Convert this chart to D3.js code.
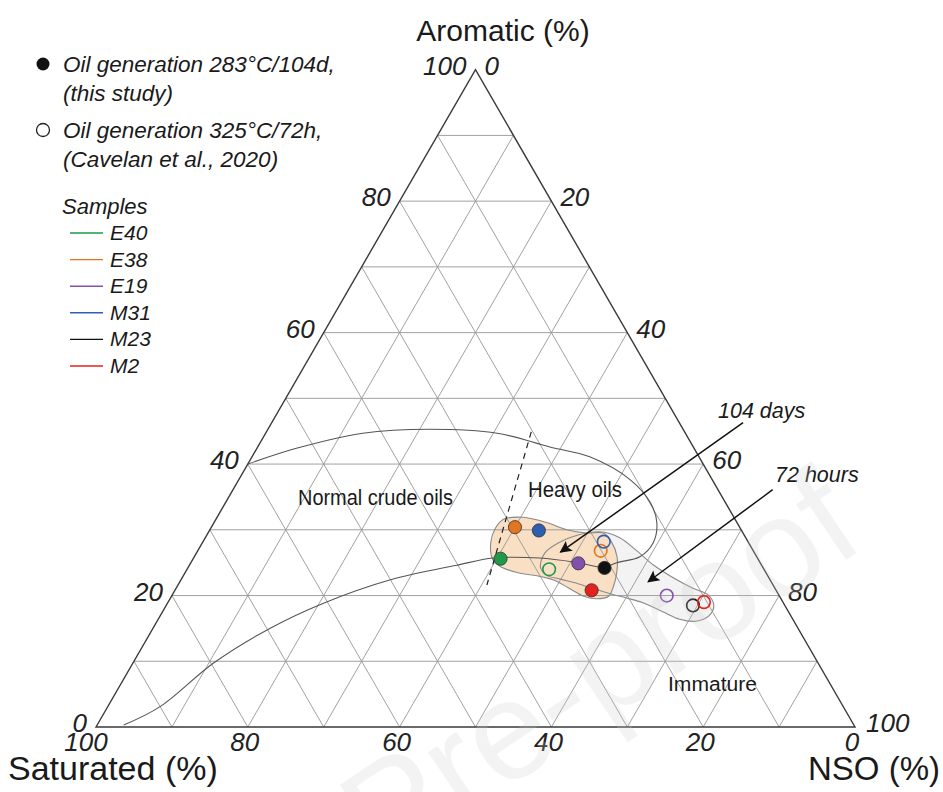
<!DOCTYPE html>
<html><head><meta charset="utf-8">
<script src="https://cdn.jsdelivr.net/npm/d3@7"></script>
<style>body{margin:0;background:#fff} svg{display:block}</style>
</head><body>
<svg id="chart" width="943" height="792"></svg>
<script>
// ---------- data (ternary: [Saturated, Aromatic, NSO] in %) ----------
const samples = ["E40", "E38", "E19", "M31", "M23", "M2"];
const sampleColors = ["#1e9a48", "#e0761f", "#8450ad", "#2f5fb3", "#111111", "#e3221f"];
const studySat = [33.9, 29.6, 24.0, 26.7, 20.9, 24.3];
const studyAro = [25.6, 30.4, 24.9, 29.9, 24.2, 20.8];
const studyNso = [40.5, 40.0, 51.1, 43.4, 54.9, 54.9];
const cavelanSat = [28.3, 20.1, 14.8, 19.0, 12.1, 10.4];
const cavelanAro = [24.0, 26.8, 20.0, 28.2, 18.5, 19.0];
const cavelanNso = [47.7, 53.1, 65.2, 52.8, 69.4, 70.6];
const tickValues = [0, 20, 40, 60, 80, 100];
const gridValues = [10, 20, 30, 40, 50, 60, 70, 80, 90];

const crudeBoundary = [
  [96.2, 0.3, 3.5], [90.0, 3.1, 6.9], [79.7, 9.7, 10.6], [69.6, 15.0, 15.4],
  [60.7, 18.8, 20.5], [50.0, 22.4, 27.6], [40.2, 24.6, 35.2], [34.8, 25.7, 39.5],
  [28.7, 25.7, 45.6], [24.0, 25.0, 51.0], [20.9, 24.3, 54.8], [18.9, 25.0, 56.1],
  [15.4, 25.9, 58.7], [12.6, 28.0, 59.4], [10.6, 31.0, 58.4], [9.9, 34.1, 56.0],
  [10.8, 37.6, 51.6], [14.4, 41.1, 44.5], [18.9, 42.6, 38.5], [24.8, 44.7, 30.5],
  [33.4, 45.3, 21.3], [42.5, 44.7, 12.8], [52.4, 42.4, 5.2], [60.0, 40.0, 0.0]
];
const heavyDivider = [[20.2, 44.9, 34.9], [37.7, 21.6, 40.7]];
const blob104 = [
  [30.5, 31.6, 37.9], [27.8, 31.9, 40.3], [25.1, 31.1, 43.8], [23.0, 30.0, 47.0],
  [20.6, 29.5, 49.9], [18.4, 29.5, 52.1], [18.0, 28.2, 53.8], [18.4, 25.9, 55.7],
  [19.7, 23.4, 56.9], [21.2, 21.3, 57.5], [22.5, 19.9, 57.6], [24.3, 19.5, 56.2],
  [25.8, 19.9, 54.3], [27.2, 21.2, 51.6], [28.6, 22.4, 49.0], [30.4, 23.0, 46.6],
  [32.8, 23.5, 43.7], [34.4, 24.3, 41.3], [35.0, 25.4, 39.6], [34.0, 28.0, 38.0],
  [32.3, 30.2, 37.5]
];
const blob72 = [
  [29.3, 24.3, 46.4], [27.6, 26.5, 45.9], [25.1, 28.0, 46.9], [21.9, 29.2, 48.9],
  [18.8, 29.7, 51.5], [16.6, 28.8, 54.6], [15.4, 26.9, 57.7], [14.2, 24.6, 61.2],
  [12.6, 22.7, 64.7], [10.8, 21.1, 68.1], [9.3, 20.1, 70.6], [9.4, 18.4, 72.2],
  [10.8, 16.9, 72.3], [12.9, 16.1, 71.0], [14.9, 16.4, 68.7], [16.5, 17.5, 66.0],
  [18.5, 18.9, 62.6], [20.2, 19.6, 60.2], [21.9, 20.2, 57.9], [23.8, 21.0, 55.2],
  [25.6, 21.8, 52.6], [27.6, 22.5, 49.9], [29.1, 23.1, 47.8]
];
const arrow104 = [[-8.4, 46.3, 62.1], [25.5, 26.6, 47.9]];
const arrow72 = [[-7.2, 36.1, 71.1], [16.2, 22.1, 61.7]];

// ---------- geometry ----------
const svg = d3.select("#chart");
const xL = 96, xR = 855, yB = 727;
const side = xR - xL, triH = side * Math.sqrt(3) / 2;
const xScale = d3.scaleLinear().domain([0, 100]).range([xL, xR]);
const yScale = d3.scaleLinear().domain([0, 100]).range([yB, yB - triH]);
const proj = p => [xScale(p[2] + p[1] / 2), yScale(p[1])];
const FONT = "'Liberation Sans', Arial, Helvetica, sans-serif";

const smooth = d3.line().x(d => proj(d)[0]).y(d => proj(d)[1]).curve(d3.curveCatmullRom.alpha(0.5));
const smoothClosed = d3.line().x(d => proj(d)[0]).y(d => proj(d)[1]).curve(d3.curveCatmullRomClosed.alpha(0.5));
const straight = d3.line().x(d => proj(d)[0]).y(d => proj(d)[1]);

// ---------- blobs (behind grid) ----------
svg.append("path").attr("d", smoothClosed(blob72)).attr("fill", "#f3f3f3").attr("stroke", "none");
svg.append("path").attr("d", smoothClosed(blob104)).attr("fill", "#f9dfc4").attr("stroke", "none");

// ---------- grid ----------
const grid = svg.append("g").attr("stroke", "#969696").attr("stroke-width", 0.9).attr("fill", "none");
gridValues.forEach(k => {
  const segs = [
    [[100 - k, k, 0], [0, k, 100 - k]],
    [[100 - k, 0, k], [0, 100 - k, k]],
    [[k, 0, 100 - k], [k, 100 - k, 0]]
  ];
  segs.forEach(s => grid.append("path").attr("d", straight(s)));
});
// triangle
svg.append("path")
  .attr("d", straight([[100, 0, 0], [0, 100, 0], [0, 0, 100]]) + "Z")
  .attr("fill", "none").attr("stroke", "#3a3a3a").attr("stroke-width", 1.4);

// ---------- blob outlines ----------
svg.append("path").attr("d", smoothClosed(blob72)).attr("fill", "none").attr("stroke", "#8a8a8a").attr("stroke-width", 1.1);
svg.append("path").attr("d", smoothClosed(blob104)).attr("fill", "none").attr("stroke", "#8a8a8a").attr("stroke-width", 1.1);

// ---------- field boundaries ----------
svg.append("path").attr("d", smooth(crudeBoundary)).attr("fill", "none").attr("stroke", "#555").attr("stroke-width", 1.1);
svg.append("path").attr("d", straight(heavyDivider)).attr("fill", "none").attr("stroke", "#222")
  .attr("stroke-width", 1.2).attr("stroke-dasharray", "6,5");

// ---------- points ----------
const study = samples.map((s, i) => ({ s, c: sampleColors[i], p: [studySat[i], studyAro[i], studyNso[i]] }));
const cav = samples.map((s, i) => ({ s, c: sampleColors[i], p: [cavelanSat[i], cavelanAro[i], cavelanNso[i]] }));
svg.append("g").selectAll("circle").data(cav).join("circle")
  .attr("cx", d => proj(d.p)[0]).attr("cy", d => proj(d.p)[1]).attr("r", 6.3)
  .attr("fill", "none").attr("stroke", d => d.c).attr("stroke-width", 1.6);
svg.append("g").selectAll("circle").data(study).join("circle")
  .attr("cx", d => proj(d.p)[0]).attr("cy", d => proj(d.p)[1]).attr("r", 6.6)
  .attr("fill", d => d.c).attr("stroke", "#333").attr("stroke-width", 0.8);

// ---------- arrows ----------
const defs = svg.append("defs");
defs.append("marker").attr("id", "ah").attr("viewBox", "0 0 10 10").attr("refX", 9).attr("refY", 5)
  .attr("markerWidth", 17).attr("markerHeight", 12).attr("markerUnits", "userSpaceOnUse").attr("orient", "auto")
  .append("path").attr("d", "M0,0 L10,5 L0,10 L2,5 Z").attr("fill", "#111");
[arrow104, arrow72].forEach(a => {
  svg.append("path").attr("d", straight(a)).attr("stroke", "#111").attr("stroke-width", 1.5)
    .attr("fill", "none").attr("marker-end", "url(#ah)");
});

// ---------- tick labels ----------
const tickG = svg.append("g").attr("font-family", FONT).attr("font-style", "italic").attr("font-size", 26).attr("fill", "#222");
tickValues.forEach(v => {
  let p = proj([100 - v, v, 0]);
  tickG.append("text").attr("x", p[0] - 9).attr("y", p[1] + 5).attr("text-anchor", "end").text(v);
  p = proj([0, 100 - v, v]);
  tickG.append("text").attr("x", p[0] + (v === 100 ? 11 : 9)).attr("y", p[1] + 5).attr("text-anchor", "start").text(v);
  p = proj([v, 0, 100 - v]);
  tickG.append("text").attr("x", p[0] + (v === 100 ? -10 : -3)).attr("y", p[1] + 24).attr("text-anchor", "middle").text(v);
});

// ---------- axis titles ----------
const tG = svg.append("g").attr("font-family", FONT).attr("fill", "#1a1a1a");
tG.append("text").attr("x", 503).attr("y", 41).attr("font-size", 30).attr("text-anchor", "middle").text("Aromatic (%)");
tG.append("text").attr("x", 8).attr("y", 780).attr("font-size", 34).attr("text-anchor", "start").text("Saturated (%)");
tG.append("text").attr("x", 940).attr("y", 780).attr("font-size", 33).attr("text-anchor", "end").text("NSO (%)");

// ---------- annotations ----------
const aG = svg.append("g").attr("font-family", FONT).attr("fill", "#1a1a1a");
aG.append("text").attr("x", 298).attr("y", 505).attr("font-size", 22).attr("textLength", 155)
  .attr("lengthAdjust", "spacingAndGlyphs").text("Normal crude oils");
aG.append("text").attr("x", 528).attr("y", 497).attr("font-size", 22).attr("textLength", 94)
  .attr("lengthAdjust", "spacingAndGlyphs").text("Heavy oils");
aG.append("text").attr("x", 668).attr("y", 691).attr("font-size", 20).attr("textLength", 89)
  .attr("lengthAdjust", "spacingAndGlyphs").text("Immature");
aG.append("text").attr("x", 718).attr("y", 418).attr("font-size", 21.5).attr("font-style", "italic").text("104 days");
aG.append("text").attr("x", 775).attr("y", 482).attr("font-size", 21.5).attr("font-style", "italic").text("72 hours");

// ---------- legend ----------
const lg = svg.append("g").attr("font-family", FONT).attr("font-style", "italic").attr("fill", "#1a1a1a");
lg.append("circle").attr("cx", 43).attr("cy", 64).attr("r", 6.5).attr("fill", "#111");
lg.append("text").attr("x", 63).attr("y", 72).attr("font-size", 22.5).text("Oil generation 283°C/104d,");
lg.append("text").attr("x", 63).attr("y", 101).attr("font-size", 22.5).text("(this study)");
lg.append("circle").attr("cx", 43).attr("cy", 130).attr("r", 6.5).attr("fill", "none").attr("stroke", "#222").attr("stroke-width", 1.3);
lg.append("text").attr("x", 63).attr("y", 138).attr("font-size", 22.5).text("Oil generation 325°C/72h,");
lg.append("text").attr("x", 63).attr("y", 167).attr("font-size", 22.5).text("(Cavelan et al., 2020)");
lg.append("text").attr("x", 62).attr("y", 214).attr("font-size", 22).text("Samples");
samples.forEach((s, i) => {
  const y = 240 + i * 26.6;
  lg.append("line").attr("x1", 70).attr("x2", 103).attr("y1", y - 7).attr("y2", y - 7)
    .attr("stroke", sampleColors[i]).attr("stroke-width", 1.4);
  lg.append("text").attr("x", 110).attr("y", y).attr("font-size", 21).text(s);
});

// ---------- watermark ----------
svg.append("text").attr("font-family", FONT).attr("font-size", 140).attr("fill", "#cccccc").attr("opacity", 0.22)
  .attr("text-anchor", "end").attr("transform", "translate(868,545) rotate(-34)").text("Journal Pre-proof");
</script>
</body></html>
